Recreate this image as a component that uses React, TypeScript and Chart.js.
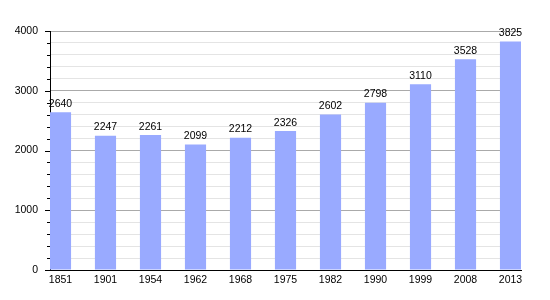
import React, { useEffect, useRef } from "react";
import { Chart, registerables } from "chart.js";

Chart.register(...registerables);

const years = ["1851", "1901", "1954", "1962", "1968", "1975", "1982", "1990", "1999", "2008", "2013"];
const population = [2640, 2247, 2261, 2099, 2212, 2326, 2602, 2798, 3110, 3528, 3825];
const yMax = 4000;
const yMinorStep = 200;
const yMajorStep = 1000;

const FONT_FAMILY = "'Liberation Sans', Arial, Helvetica, sans-serif";

const valueLabels = {
  id: "valueLabels",
  afterDatasetsDraw(chart: any) {
    const ctx = chart.ctx;
    const meta = chart.getDatasetMeta(0);
    ctx.save();
    ctx.font = `10.5px ${FONT_FAMILY}`;
    ctx.fillStyle = "#000";
    ctx.textAlign = "center";
    ctx.textBaseline = "bottom";
    meta.data.forEach((bar: any, i: number) => {
      ctx.fillText(String(population[i]), bar.x, bar.y - 3);
    });
    ctx.restore();
  },
};

const yTickMarks = {
  id: "yTickMarks",
  afterDraw(chart: any) {
    const y = chart.scales.y;
    const ctx = chart.ctx;
    const left = chart.chartArea.left;
    ctx.save();
    ctx.strokeStyle = "#000";
    ctx.lineWidth = 1;
    y.ticks.forEach((t: any) => {
      const py = Math.round(y.getPixelForValue(t.value)) + 0.5;
      const len = t.value % yMajorStep === 0 ? 5 : 3;
      ctx.beginPath();
      ctx.moveTo(left - len, py);
      ctx.lineTo(left, py);
      ctx.stroke();
    });
    ctx.restore();
  },
};

export default function App() {
  const canvasRef = useRef<HTMLCanvasElement | null>(null);

  useEffect(() => {
    if (!canvasRef.current) return;
    const chart = new Chart(canvasRef.current, {
      type: "bar",
      data: {
        datasets: [
          {
            data: population.map((v, i) => ({ x: i, y: v })),
            backgroundColor: "#99aaff",
            borderWidth: 0,
            categoryPercentage: 1,
            barPercentage: 0.47,
          } as any,
        ],
      },
      options: {
        animation: false,
        responsive: true,
        maintainAspectRatio: false,
        layout: { padding: { top: 31, right: 29, left: 0, bottom: 0 } },
        plugins: { legend: { display: false }, tooltip: { enabled: false } },
        scales: {
          x: {
            type: "linear",
            offset: false,
            min: -0.233,
            max: years.length - 1 + 0.233,
            afterBuildTicks: (s: any) => {
              s.ticks = years.map((_, i) => ({ value: i }));
            },
            afterFit: (s: any) => {
              s.height = 30;
            },
            grid: { display: false, drawTicks: false },
            border: { display: true, color: "#000" },
            ticks: {
              autoSkip: false,
              maxRotation: 0,
              padding: 4,
              color: "#000",
              font: { size: 10.5, family: FONT_FAMILY },
              callback: (v: any) => years[Math.round(Number(v))] ?? "",
            },
          },
          y: {
            min: 0,
            max: yMax,
            afterFit: (s: any) => {
              s.width = 50;
            },
            grid: {
              drawTicks: false,
              color: (c: any) => (c.tick && c.tick.value % yMajorStep === 0 ? "#aaaaaa" : "#e4e4e4"),
            },
            border: { display: true, color: "#000" },
            ticks: {
              stepSize: yMinorStep,
              autoSkip: false,
              padding: 12,
              color: "#000",
              font: { size: 10.5, family: FONT_FAMILY },
              callback: (v: any) => (Number(v) % yMajorStep === 0 ? String(v) : ""),
            },
          },
        },
      } as any,
      plugins: [valueLabels, yTickMarks],
    });
    return () => chart.destroy();
  }, []);

  return (
    <div style={{ position: "fixed", left: 0, top: 0, width: 550, height: 300, background: "#fff" }}>
      <canvas ref={canvasRef} />
    </div>
  );
}
